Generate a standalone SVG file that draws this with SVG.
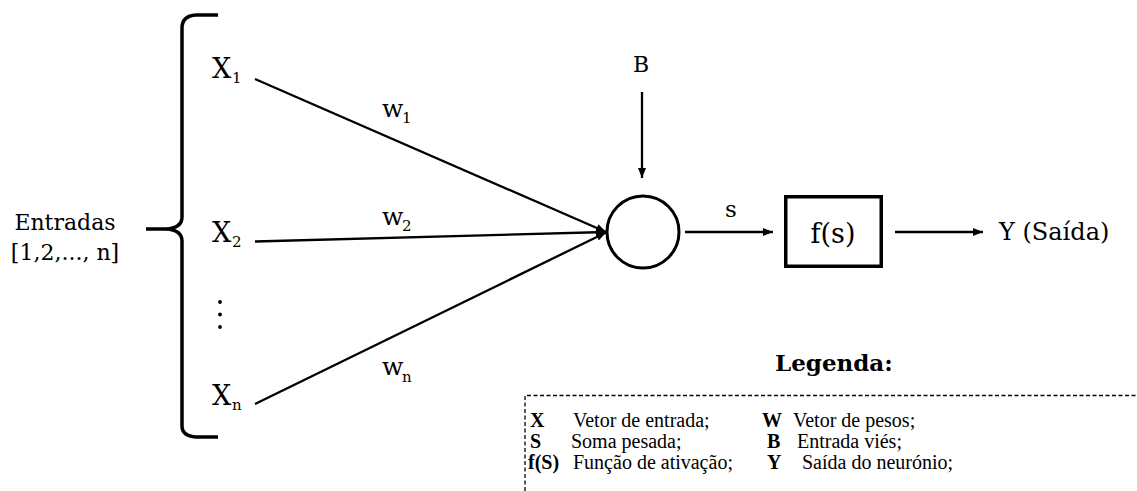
<svg xmlns="http://www.w3.org/2000/svg" width="1137" height="491" viewBox="0 0 1137 491">
<style>
.t{font-family:"DejaVu Serif","Liberation Serif",serif;fill:#000}
.ln{stroke:#000;stroke-width:2.3;fill:none}
.lg{font-family:"Liberation Serif","Times New Roman",serif;font-size:20px;fill:#000}
.lb{font-family:"Liberation Serif","Times New Roman",serif;font-size:20px;font-weight:bold;fill:#000}
</style>
<defs>
<marker id="ah" viewBox="0 0 10 8" refX="10" refY="4" markerWidth="10" markerHeight="8" markerUnits="userSpaceOnUse" orient="auto">
<path d="M0,0 L10,4 L0,8 Z" fill="#000"/>
</marker>
</defs>
<rect width="1137" height="491" fill="#fff"/>

<g id="inputs-brace">
<path d="M218,15 L196,15 Q182,16 182,28 L182,217 Q182,228 166,229 L146,229 M166,229 Q182,230 182,241 L182,426 Q182,436 196,437 L218,437" fill="none" stroke="#000" stroke-width="3.5"/>
<text class="t" x="65" y="230" font-size="22" text-anchor="middle">Entradas</text>
<text class="t" x="65" y="260" font-size="22" text-anchor="middle">[1,2,..., n]</text>
</g>

<g id="x1"><text class="t" x="212" y="78" font-size="27">X</text><text class="t" x="232" y="83" font-size="15">1</text></g>
<g id="x2"><text class="t" x="212" y="242" font-size="27">X</text><text class="t" x="232" y="247" font-size="15">2</text></g>
<g id="dots"><circle cx="220" cy="302" r="1.9"/><circle cx="220" cy="314.5" r="1.9"/><circle cx="220" cy="327" r="1.9"/></g>
<g id="xn"><text class="t" x="212" y="405" font-size="27">X</text><text class="t" x="232" y="410" font-size="15">n</text></g>

<g id="bias"><text class="t" x="641" y="72" font-size="22" text-anchor="middle">B</text></g>

<g id="sum"><circle cx="643" cy="232" r="36" fill="none" stroke="#000" stroke-width="3"/></g>

<g id="activation">
<rect x="785.75" y="196.75" width="95.5" height="69.5" fill="none" stroke="#000" stroke-width="3.5"/>
<text class="t" x="833" y="243" font-size="27" text-anchor="middle">f(s)</text>
</g>

<g id="output"><text class="t" x="999" y="240" font-size="24">Y (Saída)</text></g>

<g id="connectors">
<line class="ln" x1="255" y1="79" x2="606" y2="232" marker-end="url(#ah)"/>
<line class="ln" x1="255" y1="241.5" x2="606" y2="232" marker-end="url(#ah)"/>
<line class="ln" x1="255" y1="404" x2="606" y2="232.5" marker-end="url(#ah)"/>
<line class="ln" x1="642" y1="92" x2="642" y2="178" marker-end="url(#ah)"/>
<line class="ln" x1="685" y1="232" x2="773" y2="232" marker-end="url(#ah)"/>
<line class="ln" x1="895" y1="232" x2="983" y2="232" marker-end="url(#ah)"/>
<text class="t" x="382" y="117" font-size="25">w</text><text class="t" x="402" y="123" font-size="15">1</text>
<text class="t" x="382" y="225" font-size="25">w</text><text class="t" x="402" y="231" font-size="15">2</text>
<text class="t" x="382" y="375" font-size="25">w</text><text class="t" x="402" y="382" font-size="15">n</text>
<text class="t" x="731" y="217" font-size="23" text-anchor="middle">s</text>
</g>

<g id="legend">
<text class="t" x="775" y="371" font-size="23" font-weight="bold">Legenda:</text>
<path d="M525,491 L525,395.5 L1137,395.5" fill="none" stroke="#000" stroke-width="1.3" stroke-dasharray="4,2.5"/>
<text class="lb" x="530" y="427">X</text><text class="lg" x="573" y="427">Vetor de entrada;</text>
<text class="lb" x="762" y="427">W</text><text class="lg" x="793" y="427">Vetor de pesos;</text>
<text class="lb" x="530" y="448">S</text><text class="lg" x="571" y="448">Soma pesada;</text>
<text class="lb" x="767" y="448">B</text><text class="lg" x="797" y="448">Entrada viés;</text>
<text class="lb" x="528" y="469">f(S)</text><text class="lg" x="573" y="469">Função de ativação;</text>
<text class="lb" x="767" y="469">Y</text><text class="lg" x="802" y="469">Saída do neurónio;</text>
</g>
</svg>
